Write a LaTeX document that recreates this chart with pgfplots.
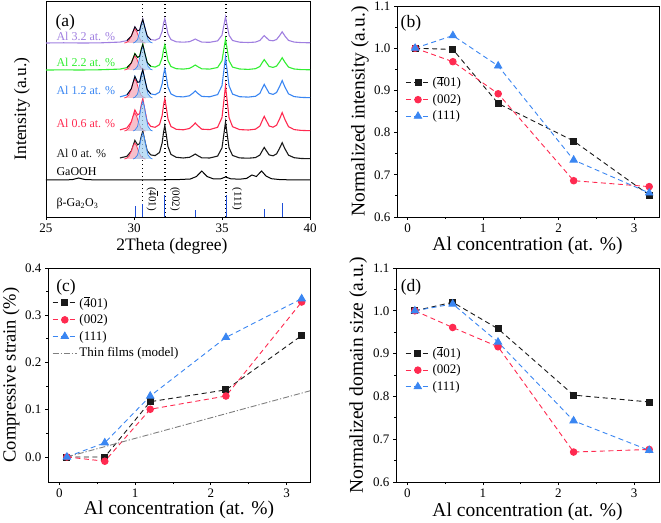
\documentclass[border=0pt]{standalone}
\usepackage{fontspec}
\setmainfont{Liberation Serif}
\usepackage{pgfplots}
\usepackage{pgfplotstable}
\pgfplotsset{compat=1.18}

\definecolor{cblack}{HTML}{1A1A1A}
\definecolor{cred}{HTML}{FF2A50}
\definecolor{cblue}{HTML}{3A86F2}
\definecolor{cgreen}{HTML}{33EE33}
\definecolor{cpurple}{HTML}{A07FE0}
\definecolor{cgray}{HTML}{7F7F7F}
\definecolor{fred}{HTML}{F6A9B9}
\definecolor{fblue}{HTML}{A3D0F2}
\definecolor{stick}{HTML}{1F4FD8}

\newcommand{\bfour}{\leavevmode\rlap{\rule[0.72em]{0.5em}{0.06em}}4}

\pgfplotstableread{
x      k     r      b      g      p
29.2   59.0  87.1   120.1  147.9  174.9
29.6   60.7  89.1   122.1  149.4  176.4
29.85  66.0  95.1   128.3  154.1  181.0
30.05  76.6  107.0  140.6  163.4  190.2
30.2   72.2  102.1  134.8  159.6  186.2
30.32  73.2  103.3  135.0  160.7  186.9
30.42  81.1  112.6  142.6  168.2  193.6
30.5   86.0  118.3  147.4  172.8  197.8
30.6   77.3  108.3  138.6  164.8  190.4
30.75  66.3  95.4   127.4  154.5  181.0
30.95  62.1  90.6   123.1  150.7  177.4
31.2   61.4  89.7   122.3  149.9  176.8
31.45  64.5  92.5   124.8  152.1  178.8
31.6   74.0  101.5  133.1  159.2  185.7
31.68  84.8  112.1  142.6  167.4  193.6
31.75  91.4  118.4  148.4  172.3  198.3
31.83  82.8  110.0  140.8  165.8  192.0
31.93  70.5  98.2   130.0  156.5  183.1
32.1   62.6  90.5   123.1  150.5  177.4
32.4   59.7  87.7   120.5  148.3  175.2
32.8   59.0  87.2   120.1  147.9  174.8
33.15  59.7  88.5   121.2  148.6  175.3
33.35  61.5  91.6   123.9  150.5  176.8
33.48  63.0  94.0   126.0  152.0  178.0
33.62  61.4  91.4   123.7  150.4  176.7
33.85  59.2  87.8   120.6  148.2  174.9
34.3   59.0  87.4   120.2  147.9  174.7
34.75  60.9  89.7   122.4  149.5  176.1
35.0   69.1  99.5   131.3  156.3  181.8
35.12  84.6  118.4  148.5  169.3  192.7
35.2   95.0  131.0  160.0  178.0  200.0
35.28  84.6  118.4  148.5  169.3  192.7
35.4   69.1  99.5   131.3  156.3  181.8
35.6   61.5  90.3   122.9  149.9  176.5
36.0   59.1  87.4   120.3  148.0  174.8
36.5   58.8  87.0   119.9  147.6  174.5
36.9   59.4  87.8   120.7  148.3  174.9
37.15  61.9  90.9   123.6  150.5  176.5
37.3   66.6  96.9   129.1  154.8  179.5
37.4   69.6  100.7  132.6  157.4  181.4
37.5   66.8  97.2   129.4  154.9  179.7
37.68  62.1  91.0   123.7  150.5  176.7
37.9   61.2  89.8   122.6  149.6  176.2
38.1   63.1  91.8   124.5  150.9  177.5
38.27  68.6  98.0   130.4  155.1  181.3
38.42  74.3  104.4  136.4  159.3  185.2
38.57  68.4  97.8   130.2  154.9  181.1
38.78  61.8  90.3   123.1  149.9  176.6
39.1   59.3  87.4   120.4  148.0  174.9
39.5   58.5  86.6   119.6  147.4  174.4
40.0   58.3  86.3   119.3  147.2  174.2
}\xrd

\tikzset{plabel/.style={font=\fontsize{17.5}{20}\selectfont}}

\pgfplotsset{
  panel/.style={
    scale only axis,
    axis line style={line width=0.9pt, black},
    tick align=outside,
    xtick pos=bottom, ytick pos=left,
    major tick length=3pt, minor tick length=2pt,
    tick style={line width=0.8pt, black},
    /pgf/number format/assume math mode=true,
    tick label style={font=\fontsize{13}{15}\selectfont},
    label style={font=\fontsize{19.5}{22}\selectfont},
    legend style={draw=none, fill=none, font=\fontsize{13}{15}\selectfont, inner sep=0pt, row sep=2pt},
    legend cell align=left,
    legend image code/.code={\draw[mark repeat=2,mark phase=2] plot coordinates {(0cm,0cm) (0.43cm,0cm) (0.86cm,0cm)};},
  },
  dstyle/.style={line width=0.9pt, dash pattern=on 5pt off 3.5pt},
  sK/.style={dstyle, cblack, mark=square*, mark size=3pt, mark options={solid, fill=cblack}},
  sR/.style={dstyle, cred, mark=*, mark size=3.3pt, mark options={solid, fill=cred}},
  sB/.style={dstyle, cblue, mark=triangle*, mark size=4.2pt, mark options={solid, fill=cblue}},
}

\begin{document}
\begin{tikzpicture}
\useasboundingbox (0pt,0pt) rectangle (661pt,522pt);

% ---------------- (a)
\begin{axis}[panel, at={(46pt,305pt)}, anchor=south west, width=264pt, height=216pt,
  xmin=25, xmax=40, ymin=0, ymax=216, xtick={25,30,35,40}, ytick=\empty,
  xlabel={2Theta (degree)}, ylabel={Intensity (a.u.)},
  label style={font=\fontsize{17.5}{20}\selectfont},
  xlabel style={at={(axis description cs:0.477,-0.134)}, anchor=center},
  ylabel style={at={(axis description cs:-0.091,0.5)}, anchor=center},
  clip=true]
\addplot[black, line width=1.2pt, dash pattern=on 1.4pt off 2.6pt] coordinates {(30.5,0) (30.5,216)};
\addplot[black, line width=1.2pt, dash pattern=on 1.4pt off 2.6pt] coordinates {(31.76,0) (31.76,216)};
\addplot[black, line width=1.2pt, dash pattern=on 1.4pt off 2.6pt] coordinates {(35.23,0) (35.23,216)};
\addplot[ycomb, stick, line width=1pt] coordinates {(30.06,11) (30.51,13) (31.76,22) (33.47,7) (35.23,22) (37.39,8) (38.41,14)};
\addplot[black, line width=1pt] coordinates {(25,37) (26,37) (26.5,37.4) (26.85,39) (27.2,37.5) (27.8,37.1) (28.5,37) (29.5,37) (30.5,37.1) (31.5,37.2) (32.5,37.4) (33.2,38) (33.55,40.5) (33.85,46) (34.15,40.5) (34.5,38.2) (34.9,38) (35.2,40) (35.5,38.2) (36.0,37.8) (36.4,38.6) (36.7,42) (36.95,40.5) (37.25,46) (37.5,41) (37.8,38.3) (38.3,37.4) (39,37.1) (40,37)};
\addplot[cblack, line width=1.1pt] table[x=x, y=k] {\xrd};
\addplot[cred, line width=1.1pt] table[x=x, y=r] {\xrd};
\addplot[cblue, line width=1.1pt] table[x=x, y=b] {\xrd};
\addplot[cgreen, line width=1.1pt] table[x=x, y=g] {\xrd};
\addplot[cgreen, line width=1.1pt] coordinates {(25,147) (26,147.1) (27,147) (28,147.2) (29.2,147.9)};
\addplot[cpurple, line width=1.1pt] table[x=x, y=p] {\xrd};
\addplot[cpurple, line width=1.1pt] coordinates {(25,174) (26,174.2) (27,174) (28,174.1) (29.2,174.9)};
\addplot[fill=fred, fill opacity=0.75, draw=cred, line width=0.7pt] coordinates {(29.45,58) (29.55,58.5) (29.7,60.4) (29.85,66) (29.95,71.1) (30.05,74) (30.15,71.1) (30.25,66) (30.4,60.4) (30.55,58.5) (30.65,58)};
\addplot[fill=fblue, fill opacity=0.7, draw=cblue, line width=0.7pt] coordinates {(29.95,58) (30.05,58.8) (30.2,61.9) (30.32,71) (30.41,79.3) (30.5,84) (30.59,79.3) (30.68,71) (30.8,61.9) (30.95,58.8) (31.05,58)};
\addplot[fill=fred, fill opacity=0.75, draw=cred, line width=0.7pt] coordinates {(29.45,86) (29.55,86.5) (29.7,88.7) (29.85,95) (29.95,100.8) (30.05,104) (30.15,100.8) (30.25,95) (30.4,88.7) (30.55,86.5) (30.65,86)};
\addplot[fill=fblue, fill opacity=0.7, draw=cblue, line width=0.7pt] coordinates {(29.95,86) (30.05,86.9) (30.2,90.5) (30.32,101) (30.41,110.6) (30.5,116) (30.59,110.6) (30.68,101) (30.8,90.5) (30.95,86.9) (31.05,86)};
\addplot[fill=fred, fill opacity=0.75, draw=cred, line width=0.7pt] coordinates {(29.45,119) (29.55,119.6) (29.7,121.9) (29.85,128.5) (29.95,134.6) (30.05,138) (30.15,134.6) (30.25,128.5) (30.4,121.9) (30.55,119.6) (30.65,119)};
\addplot[fill=fblue, fill opacity=0.7, draw=cblue, line width=0.7pt] coordinates {(29.95,119) (30.05,119.8) (30.2,122.9) (30.32,132) (30.41,140.3) (30.5,145) (30.59,140.3) (30.68,132) (30.8,122.9) (30.95,119.8) (31.05,119)};
\addplot[fill=fred, fill opacity=0.75, draw=cred, line width=0.7pt] coordinates {(29.45,147) (29.55,147.4) (29.7,149.1) (29.85,154) (29.95,158.5) (30.05,161) (30.15,158.5) (30.25,154) (30.4,149.1) (30.55,147.4) (30.65,147)};
\addplot[fill=fblue, fill opacity=0.7, draw=cblue, line width=0.7pt] coordinates {(29.95,147) (30.05,147.7) (30.2,150.6) (30.32,159) (30.41,166.7) (30.5,171) (30.59,166.7) (30.68,159) (30.8,150.6) (30.95,147.7) (31.05,147)};
\addplot[fill=fred, fill opacity=0.75, draw=cred, line width=0.7pt] coordinates {(29.45,174) (29.55,174.4) (29.7,176.1) (29.85,181) (29.95,185.5) (30.05,188) (30.15,185.5) (30.25,181) (30.4,176.1) (30.55,174.4) (30.65,174)};
\addplot[fill=fblue, fill opacity=0.7, draw=cblue, line width=0.7pt] coordinates {(29.95,174) (30.05,174.7) (30.2,177.3) (30.32,185) (30.41,192) (30.5,196) (30.59,192) (30.68,185) (30.8,177.3) (30.95,174.7) (31.05,174)};
\addplot[black, line width=0.8pt, restrict x to domain=29.5:31.0] table[x=x, y=b] {\xrd};
\addplot[black, line width=0.8pt, restrict x to domain=29.5:31.0] table[x=x, y=g] {\xrd};
\addplot[black, line width=0.8pt, restrict x to domain=29.5:31.0] table[x=x, y=p] {\xrd};
\node[plabel] at (axis cs:26.1,195) {(a)};
\node[anchor=base west, cpurple, font=\fontsize{12}{14}\selectfont] at (axis cs:25.4,176) {Al 3.2 at. \%};
\node[anchor=base west, cgreen, font=\fontsize{12}{14}\selectfont] at (axis cs:25.4,150) {Al 2.2 at. \%};
\node[anchor=base west, cblue, font=\fontsize{12}{14}\selectfont] at (axis cs:25.4,122) {Al 1.2 at. \%};
\node[anchor=base west, cred, font=\fontsize{12}{14}\selectfont] at (axis cs:25.4,89) {Al 0.6 at. \%};
\node[anchor=base west, cblack, font=\fontsize{12}{14}\selectfont] at (axis cs:25.4,59) {Al 0 at. \%};
\node[anchor=base west, black, font=\fontsize{12}{14}\selectfont] at (axis cs:25.4,41) {GaOOH};
\node[anchor=base west, black, font=\fontsize{12}{14}\selectfont] at (axis cs:25.4,10) {β-Ga\textsubscript{2}O\textsubscript{3}};
\node[rotate=-90, font=\fontsize{11}{12}\selectfont] at (axis cs:31.02,18) {(\bfour01)};
\node[rotate=-90, font=\fontsize{11}{12}\selectfont] at (axis cs:32.33,18) {(002)};
\node[rotate=-90, font=\fontsize{11}{12}\selectfont] at (axis cs:35.85,18) {(111)};
\end{axis}

% ---------------- (b)
\begin{axis}[panel, at={(397pt,305pt)}, anchor=south west, width=262pt, height=211pt,
  xmin=-0.14, xmax=3.33, ymin=0.6, ymax=1.1,
  xtick={0,1,2,3}, ytick={0.6,0.7,0.8,0.9,1.0,1.1}, minor y tick num=1, minor x tick num=1,
  yticklabel style={/pgf/number format/.cd, fixed, fixed zerofill, precision=1},
  xlabel={Al concentration (at. \%)}, ylabel={Normalized intensity (a.u.)},
  xlabel style={at={(axis description cs:0.498,-0.137)}, anchor=center},
  ylabel style={at={(axis description cs:-0.141,0.5)}, anchor=center},
  legend style={at={(axis description cs:0.031,0.675)}, anchor=north west},
  clip=false]
\addplot[sK] coordinates {(0.1,1.0) (0.6,0.997) (1.2,0.869) (2.2,0.780) (3.2,0.652)};
\addlegendentry{(\bfour01)}
\addplot[sR] coordinates {(0.1,1.0) (0.6,0.968) (1.2,0.892) (2.2,0.686) (3.2,0.672)};
\addlegendentry{(002)}
\addplot[sB] coordinates {(0.1,1.0) (0.6,1.030) (1.2,0.958) (2.2,0.735) (3.2,0.657)};
\addlegendentry{(111)}
\node[plabel] at (axis description cs:0.053,0.92) {(b)};
\end{axis}

% ---------------- (c)
\begin{axis}[panel, at={(48pt,40pt)}, anchor=south west, width=262pt, height=214pt,
  xmin=-0.15, xmax=3.31, ymin=-0.053, ymax=0.4,
  xtick={0,1,2,3}, ytick={0,0.1,0.2,0.3,0.4}, minor y tick num=1, minor x tick num=1,
  yticklabel style={/pgf/number format/.cd, fixed, fixed zerofill, precision=1},
  xlabel={Al concentration (at. \%)}, ylabel={Compressive strain (\%)},
  xlabel style={at={(axis description cs:0.5,-0.131)}, anchor=center},
  ylabel style={at={(axis description cs:-0.141,0.5)}, anchor=center, font=\fontsize{18.5}{21}\selectfont},
  legend style={at={(axis description cs:0.015,0.875)}, anchor=north west},
  clip=false]
\addplot[sK] coordinates {(0.1,0.0) (0.6,0.0) (1.2,0.117) (2.2,0.142) (3.2,0.257)};
\addlegendentry{(\bfour01)}
\addplot[sR] coordinates {(0.1,0.0) (0.6,-0.009) (1.2,0.101) (2.2,0.129) (3.2,0.328)};
\addlegendentry{(002)}
\addplot[sB] coordinates {(0.1,0.0) (0.6,0.030) (1.2,0.129) (2.2,0.253) (3.2,0.335)};
\addlegendentry{(111)}
\addplot[cgray, line width=0.9pt, dash pattern=on 6pt off 2pt on 1.2pt off 2pt] coordinates {(0.1,0.0) (3.31,0.140)};
\addlegendentry{Thin films (model)}
\node[plabel] at (axis description cs:0.069,0.911) {(c)};
\end{axis}

% ---------------- (d)
\begin{axis}[panel, at={(396pt,40pt)}, anchor=south west, width=263pt, height=214pt,
  xmin=-0.15, xmax=3.33, ymin=0.6, ymax=1.1,
  xtick={0,1,2,3}, ytick={0.6,0.7,0.8,0.9,1.0,1.1}, minor y tick num=1, minor x tick num=1,
  yticklabel style={/pgf/number format/.cd, fixed, fixed zerofill, precision=1},
  xlabel={Al concentration (at. \%)}, ylabel={Normalized domain size (a.u.)},
  xlabel style={at={(axis description cs:0.5,-0.14)}, anchor=center},
  ylabel style={at={(axis description cs:-0.144,0.5)}, anchor=center},
  legend style={at={(axis description cs:0.034,0.64)}, anchor=north west},
  clip=false]
\addplot[sK] coordinates {(0.1,1.0) (0.6,1.020) (1.2,0.958) (2.2,0.803) (3.2,0.787)};
\addlegendentry{(\bfour01)}
\addplot[sR] coordinates {(0.1,1.0) (0.6,0.961) (1.2,0.916) (2.2,0.670) (3.2,0.676)};
\addlegendentry{(002)}
\addplot[sB] coordinates {(0.1,1.0) (0.6,1.016) (1.2,0.927) (2.2,0.743) (3.2,0.674)};
\addlegendentry{(111)}
\node[plabel] at (axis description cs:0.057,0.911) {(d)};
\end{axis}
\end{tikzpicture}
\end{document}
